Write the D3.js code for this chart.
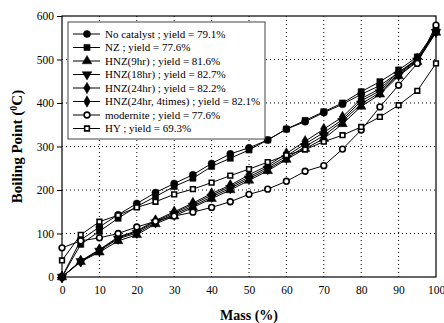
<!DOCTYPE html>
<html>
<head>
<meta charset="utf-8">
<script src="https://cdn.jsdelivr.net/npm/d3@7"></script>
<style>
  body { margin: 0; background: #fff; }
  text { font-family: 'Liberation Serif', 'Times New Roman', serif; }
</style>
</head>
<body>
<div id="chart"></div>
<script>
const mass = [0, 5, 10, 15, 20, 25, 30, 35, 40, 45, 50, 55, 60, 65, 70, 75, 80, 85, 90, 95, 100];
const xTicks = [0, 10, 20, 30, 40, 50, 60, 70, 80, 90, 100];
const yTicks = [0, 100, 200, 300, 400, 500, 600];

const seriesNames = [
  'No catalyst ; yield = 79.1%',
  'NZ ; yield = 77.6%',
  'HNZ(9hr) ; yield = 81.6%',
  'HNZ(18hr) ; yield = 82.7%',
  'HNZ(24hr) ; yield = 82.2%',
  'HNZ(24hr, 4times) ; yield = 82.1%',
  'modernite ; yield = 77.6%',
  'HY ; yield = 69.3%'
];

const noCatalyst = [0, 85, 115, 143, 169, 194, 215, 235, 261, 283, 297, 315, 340, 357, 378, 397, 420, 440, 470, 500, 565];
const nz = [0, 75, 105, 135, 162, 185, 208, 227, 254, 273, 292, 315, 340, 360, 380, 400, 426, 449, 476, 506, 568];
const hnz9 = [0, 35, 57, 83, 97, 122, 140, 160, 180, 200, 222, 244, 270, 295, 318, 352, 392, 420, 462, 495, 562];
const hnz18 = [0, 36, 60, 88, 101, 125, 144, 163, 184, 204, 226, 248, 273, 300, 325, 358, 398, 424, 464, 497, 563];
const hnz24 = [0, 36, 62, 90, 104, 128, 147, 167, 188, 208, 230, 252, 278, 306, 332, 362, 405, 428, 467, 499, 565];
const hnz24x4 = [0, 37, 63, 92, 106, 130, 150, 170, 192, 211, 235, 256, 284, 312, 340, 368, 410, 433, 470, 502, 567];
const mordenite = [67, 83, 90, 100, 115, 128, 140, 149, 160, 173, 190, 202, 220, 243, 256, 294, 338, 391, 441, 491, 579];
const hy = [38, 97, 127, 142, 160, 173, 190, 202, 217, 233, 248, 264, 280, 293, 311, 326, 345, 368, 395, 428, 491];

const seriesValues = [noCatalyst, nz, hnz9, hnz18, hnz24, hnz24x4, mordenite, hy];
const markers = ['circle', 'square', 'triUp', 'triDown', 'diamond', 'diamond', 'openCircle', 'openSquare'];

const margin = { top: 16, right: 8, bottom: 46, left: 62 },
  width = 444 - margin.left - margin.right,
  height = 323 - margin.top - margin.bottom;

const x = d3.scaleLinear().domain([0, 100]).range([0, width]);
const y = d3.scaleLinear().domain([0, 600]).range([height, 0]);

const svg = d3
  .select('#chart')
  .append('svg')
  .attr('width', 444)
  .attr('height', 323);

const g = svg.append('g').attr('transform', 'translate(' + margin.left + ',' + margin.top + ')');

// dotted grid
g.selectAll('.vgrid')
  .data(xTicks.slice(1, -1))
  .enter()
  .append('line')
  .attr('x1', (d) => x(d))
  .attr('x2', (d) => x(d))
  .attr('y1', 0)
  .attr('y2', height)
  .attr('stroke', '#000')
  .attr('stroke-width', 1)
  .attr('stroke-dasharray', '1,3');

g.selectAll('.hgrid')
  .data(yTicks.slice(1, -1))
  .enter()
  .append('line')
  .attr('x1', 0)
  .attr('x2', width)
  .attr('y1', (d) => y(d))
  .attr('y2', (d) => y(d))
  .attr('stroke', '#000')
  .attr('stroke-width', 1)
  .attr('stroke-dasharray', '1,3');

// axes
const xAxis = d3.axisBottom(x).tickValues(xTicks).tickSize(0).tickPadding(9);
const yAxis = d3.axisLeft(y).tickValues(yTicks).tickSize(5).tickSizeOuter(0).tickPadding(3);

g.append('g')
  .attr('transform', 'translate(0,' + height + ')')
  .call(xAxis)
  .call((a) => a.select('.domain').remove())
  .selectAll('text')
  .style('font-size', '11.5px')
  .attr('fill', '#000');

g.append('g')
  .call(yAxis)
  .call((a) => a.select('.domain').remove())
  .selectAll('text')
  .style('font-size', '11.5px')
  .attr('fill', '#000');

g.append('rect')
  .attr('x', 0)
  .attr('y', 0)
  .attr('width', width)
  .attr('height', height)
  .attr('fill', 'none')
  .attr('stroke', '#000')
  .attr('stroke-width', 1.2);

// marker drawing
function drawMarker(sel, type) {
  const sym = {
    circle: d3.symbolCircle,
    openCircle: d3.symbolCircle,
    square: d3.symbolSquare,
    openSquare: d3.symbolSquare,
    triUp: d3.symbolTriangle,
    triDown: d3.symbolTriangle,
    diamond: d3.symbolDiamond
  }[type];
  const size = { circle: 40, openCircle: 26, square: 38, openSquare: 22, triUp: 40, triDown: 40, diamond: 38 }[type];
  const open = type === 'openCircle' || type === 'openSquare';
  sel.append('path')
    .attr('d', d3.symbol().type(sym).size(size)())
    .attr('transform', (d) => (type === 'triDown' ? 'rotate(180)' : null))
    .attr('fill', open ? '#fff' : '#000')
    .attr('stroke', '#000')
    .attr('stroke-width', open ? 1.6 : 0.5);
}

const line = d3.line()
  .x((d, i) => x(mass[i]))
  .y((d) => y(d));

seriesValues.forEach((vals, k) => {
  g.append('path')
    .datum(vals)
    .attr('d', line)
    .attr('fill', 'none')
    .attr('stroke', '#000')
    .attr('stroke-width', 1);

  const pts = g.selectAll('.pt' + k)
    .data(vals)
    .enter()
    .append('g')
    .attr('transform', (d, i) => 'translate(' + x(mass[i]) + ',' + y(d) + ')');
  drawMarker(pts, markers[k]);
});

// legend
const legend = svg.append('g').attr('transform', 'translate(68,22)');
legend.append('rect')
  .attr('width', 197)
  .attr('height', 117)
  .attr('fill', '#fff')
  .attr('stroke', '#444')
  .attr('stroke-width', 1);

seriesNames.forEach((name, k) => {
  const row = legend.append('g').attr('transform', 'translate(0,' + (12 + k * 13.5) + ')');
  row.append('line')
    .attr('x1', 5)
    .attr('x2', 32)
    .attr('stroke', '#000')
    .attr('stroke-width', 1);
  const m = row.append('g').attr('transform', 'translate(19,0)');
  drawMarker(m, markers[k]);
  row.append('text')
    .attr('x', 37)
    .attr('dy', '0.35em')
    .style('font-size', '11px')
    .text(name);
});

// axis titles
svg.append('text')
  .attr('x', margin.left + width / 2)
  .attr('y', 320)
  .attr('text-anchor', 'middle')
  .style('font-size', '14px')
  .style('font-weight', 'bold')
  .text('Mass (%)');

const yt = svg.append('text')
  .attr('transform', 'translate(22,' + (margin.top + height / 2) + ') rotate(-90)')
  .attr('text-anchor', 'middle')
  .style('font-size', '15px')
  .style('font-weight', 'bold');
yt.append('tspan').text('Boiling Point (');
yt.append('tspan').attr('dy', -5).style('font-size', '10px').text('0');
yt.append('tspan').attr('dy', 5).text('C)');
</script>
</body>
</html>
